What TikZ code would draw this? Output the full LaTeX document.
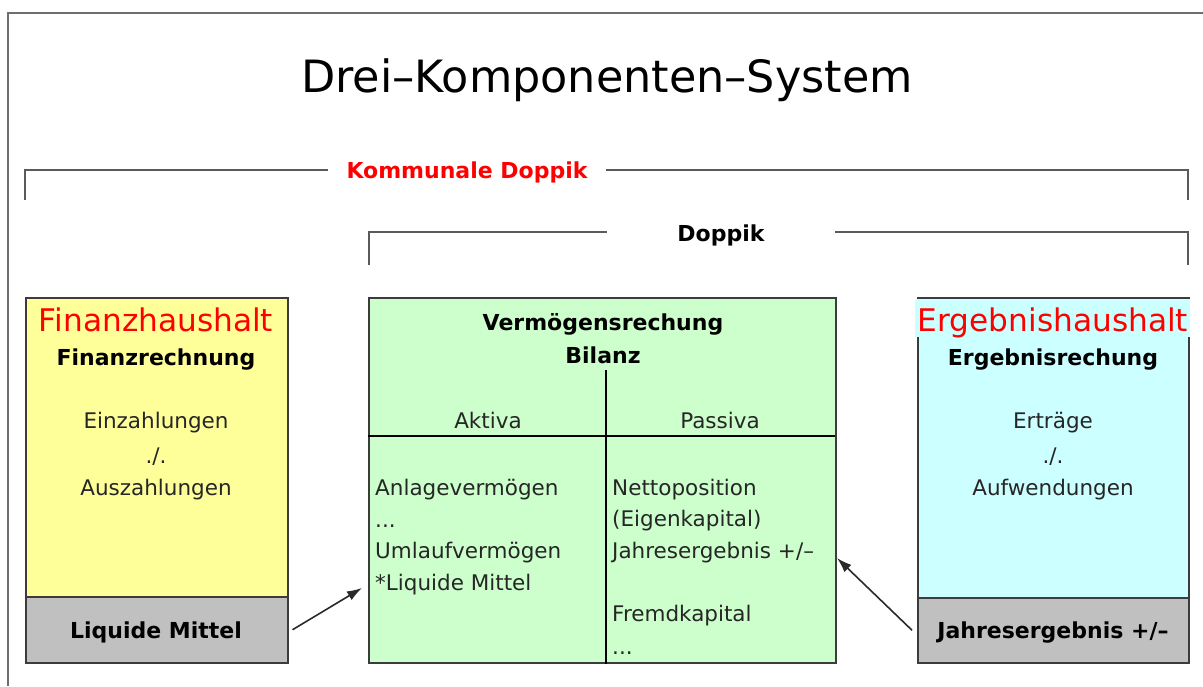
\documentclass[tikz,border=0pt]{standalone}
\usepackage{fontspec}
\setmainfont{DejaVu Sans}
\usetikzlibrary{arrows.meta}
\definecolor{framegray}{HTML}{6E6E6E}
\definecolor{bracketgray}{HTML}{5A5A5A}
\definecolor{boxline}{HTML}{3C3C3C}
\definecolor{yellowbox}{HTML}{FFFF99}
\definecolor{greenbox}{HTML}{CCFFCC}
\definecolor{cyanbox}{HTML}{CCFFFF}
\definecolor{graybox}{HTML}{C0C0C0}
\definecolor{bodytext}{HTML}{262626}
\definecolor{arrowgray}{HTML}{2A2A2A}
\tikzset{
  frame/.style={draw=framegray, line width=2pt},
  bracket/.style={draw=bracketgray, line width=2pt},
  boxborder/.style={draw=boxline, line width=1.5pt, inner sep=0pt},
  txt/.style={font=\fontsize{21.5}{26}\selectfont, text=bodytext, inner sep=0pt, anchor=mid, yshift=-6pt},
  ltxt/.style={txt, anchor=mid west},
  btxt/.style={font=\fontsize{22}{26}\selectfont\bfseries, text=black, inner sep=0pt, anchor=mid, yshift=-6pt},
  head/.style={font=\fontsize{31.2}{36}\selectfont, text=red, inner sep=0pt, anchor=mid, yshift=-9pt},
  link/.style={-{Latex[length=15pt,width=10pt]}, line width=1.6pt, draw=arrowgray},
  divider/.style={draw=black, line width=2.5pt}
}
\begin{document}
\begin{tikzpicture}[x=1pt,y=-1pt]
\useasboundingbox[fill=white] (0,0) rectangle (1203,686);
% outer frame (cut at right and bottom)
\draw[frame] (1203,13) -- (8,13) -- (8,686);
% title
\node[font=\fontsize{44.5}{50}\selectfont, inner sep=0pt, anchor=base] (title) at (607,92) {Drei–Komponenten–System};
% Kommunale Doppik bracket
\node[btxt, text=red] (kd) at (467,170) {Kommunale Doppik};
\coordinate (kdl) at (25,200);
\coordinate (kdla) at (328,170);
\coordinate (kdr) at (1188,200);
\coordinate (kdra) at (606,170);
\draw[bracket] (kdl) |- (kdla);
\draw[bracket] (kdr) |- (kdra);
% Doppik bracket
\node[btxt] (dp) at (721,233) {Doppik};
\coordinate (dpl) at (369,265);
\coordinate (dpla) at (607,232);
\coordinate (dpr) at (1188,265);
\coordinate (dpra) at (835,232);
\draw[bracket] (dpl) |- (dpla);
\draw[bracket] (dpr) |- (dpra);
% Finanzhaushalt
\node[boxborder, fill=yellowbox, minimum width=262pt, minimum height=365pt, anchor=north west] (fin) at (25,297) {};
\node[boxborder, fill=graybox, minimum width=262pt, minimum height=66pt, anchor=south west] (finbot) at (fin.south west) {};
\node[head] (finh) at (156,320) {Finanzhaushalt};
\node[btxt] (finr) at (156,357) {Finanzrechnung};
\node[txt] (fin1) at (156,420) {Einzahlungen};
\node[txt] (fin2) at (156,455) {./.};
\node[txt] (fin3) at (156,487) {Auszahlungen};
\node[btxt] (finlm) at (156,630) {Liquide Mittel};
% Bilanz
\node[boxborder, fill=greenbox, minimum width=467pt, minimum height=365pt, anchor=north west] (bil) at (368,297) {};
\coordinate (vtop) at (606,370);
\coordinate (hl) at (368,436);
\coordinate (hr) at (835,436);
\draw[divider] (hl) -- (hr);
\draw[divider] (vtop) -- (vtop |- bil.south);
\node[btxt] (bil1) at (603,322) {Vermögensrechung};
\node[btxt] (bil2) at (603,355) {Bilanz};
\node[txt] (akt) at (488,420) {Aktiva};
\node[txt] (pas) at (720,420) {Passiva};
\node[ltxt] (a1) at (375,487) {Anlagevermögen};
\node[ltxt] (a2) at (375,519) {...};
\node[ltxt] (a3) at (375,550) {Umlaufvermögen};
\node[ltxt] (a4) at (375,582) {*Liquide Mittel};
\node[ltxt] (p1) at (612,487) {Nettoposition};
\node[ltxt] (p2) at (612,518) {(Eigenkapital)};
\node[ltxt] (p3) at (612,550) {Jahresergebnis +/–};
\node[ltxt] (p4) at (612,613) {Fremdkapital};
\node[ltxt] (p5) at (612,646) {...};
% Ergebnishaushalt
\node[boxborder, fill=cyanbox, minimum width=271pt, minimum height=365pt, anchor=north west] (erg) at (917,297) {};
\node[boxborder, fill=graybox, minimum width=271pt, minimum height=65pt, anchor=south west] (ergbot) at (erg.south west) {};
\fill[cyanbox] (915,298.6) rectangle (1190,337);
\node[head] (ergh) at (1053,320) {Ergebnishaushalt};
\node[btxt] (ergr) at (1053,357) {Ergebnisrechung};
\node[txt] (erg1) at (1053,420) {Erträge};
\node[txt] (erg2) at (1053,455) {./.};
\node[txt] (erg3) at (1053,487) {Aufwendungen};
\node[btxt] (ergj) at (1053,630) {Jahresergebnis +/–};
% arrows
\coordinate (t1) at (362,588);
\coordinate (t2) at (837,558);
\draw[link] ([xshift=4pt]finbot.east) -- (t1);
\draw[link] ([xshift=-5pt]ergbot.west) -- (t2);
\end{tikzpicture}
\end{document}
